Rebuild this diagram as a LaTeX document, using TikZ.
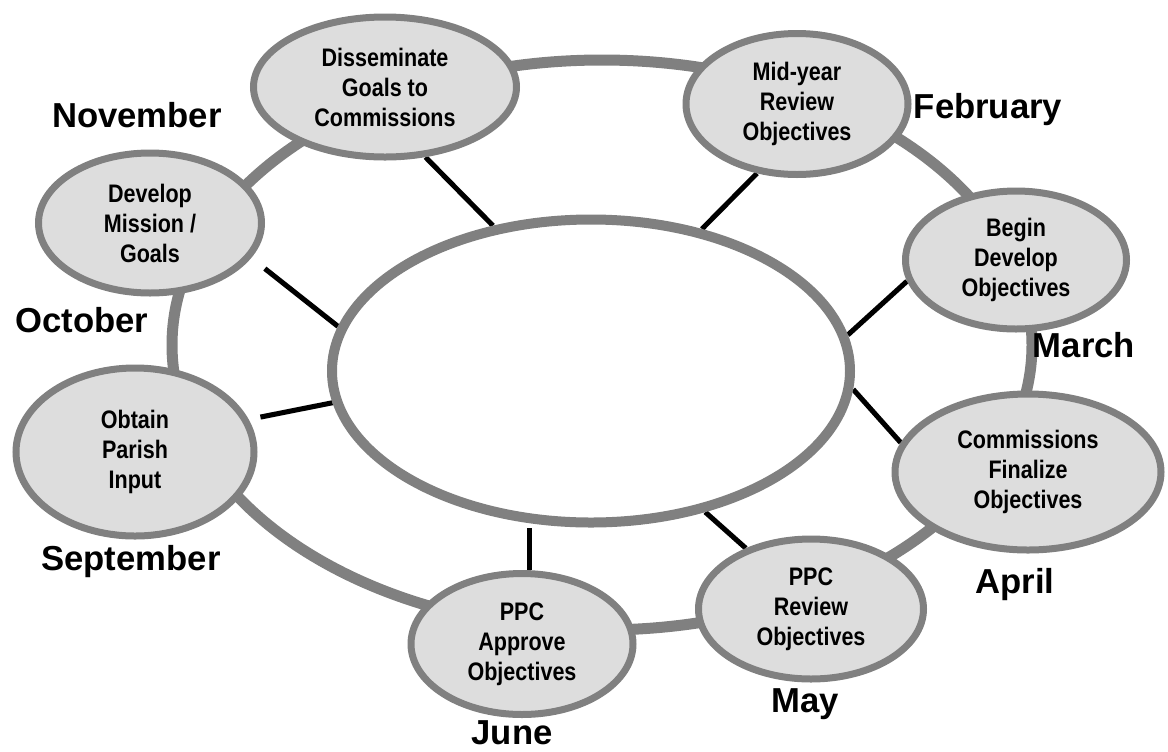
\documentclass[tikz,border=0pt]{standalone}
\usepackage{fontspec}
\setmainfont{Liberation Sans}
\newfontfamily\narrowfont[FakeStretch=0.85]{Liberation Sans}
\usetikzlibrary{shapes.geometric}
\definecolor{ringgray}{HTML}{808080}
\definecolor{stagefill}{HTML}{DDDDDD}
\pgfdeclarelayer{background}
\pgfsetlayers{background,main}

\tikzset{
  stage/.style 2 args={ellipse, draw=ringgray, line width=5.25pt, fill=stagefill,
    inner sep=0pt, align=center, minimum width=#1*0.75pt, minimum height=#2*0.75pt,
    font=\narrowfont\bfseries\fontsize{19}{22.5}\selectfont},
  hub/.style={ellipse, draw=ringgray, line width=7.5pt, fill=white,
    minimum width=518*0.75pt, minimum height=303*0.75pt},
  month/.style={anchor=base, inner sep=0pt, font=\bfseries\fontsize{26}{30}\selectfont},
  ring/.style={draw=ringgray, line width=8.25pt},
  spoke/.style={draw=black, line width=3.8pt}
}

\begin{document}
\begin{tikzpicture}[x=0.75pt, y=-0.75pt]
  \useasboundingbox (0,0) rectangle (1168,751);

  \node[hub] (hub) at (591,371) {};
  \node[stage={263}{140}] (diss) at (385,87) {Disseminate\\Goals to\\Commissions};
  \node[stage={222}{141}] (mid) at (797,104) {Mid-year\\Review\\Objectives};
  \node[stage={221}{138}] (begin) at (1016,260) {Begin\\Develop\\Objectives};
  \node[stage={266}{156}] (comm) at (1028,472) {Commissions\\Finalize\\Objectives};
  \node[stage={225}{140}] (may) at (811,609) {PPC\\Review\\Objectives};
  \node[stage={222}{141}] (june) at (522,644) {PPC\\Approve\\Objectives};
  \node[stage={238}{168}] (obt) at (135,452) {Obtain\\Parish\\Input};
  \node[stage={223}{140}] (dev) at (150,223) {Develop\\Mission /\\Goals};

  \node[month] (nov) at (137,127) {November};
  \node[month] (feb) at (988,118) {February};
  \node[month] (oct) at (82,332) {October};
  \node[month] (mar) at (1084,357) {March};
  \node[month] (sep) at (131,570) {September};
  \node[month] (apr) at (1015,593) {April};
  \node[month] (mayl) at (805,712) {May};
  \node[month] (jun) at (512,744) {June};

  \begin{pgfonlayer}{background}
    \draw[ring] (602,345) ellipse [x radius=430, y radius=285];
    \draw[spoke] (hub.124) -- (diss.-60);
    \draw[spoke] (hub.52) -- (mid.240);
    \draw[spoke] (hub.8.5) -- (begin.191);
    \draw[spoke] (hub.-4.7) -- (comm.167);
    \draw[spoke] (hub.-51.6) -- (may.137.6);
    \draw[spoke] (june.84) -- (june.84 |- hub.south);
    \draw[spoke, shorten >=9pt] (hub.187) -- (obt.16);
    \draw[spoke, shorten >=13pt] (hub.170) -- (dev.-19);
  \end{pgfonlayer}
\end{tikzpicture}
\end{document}
